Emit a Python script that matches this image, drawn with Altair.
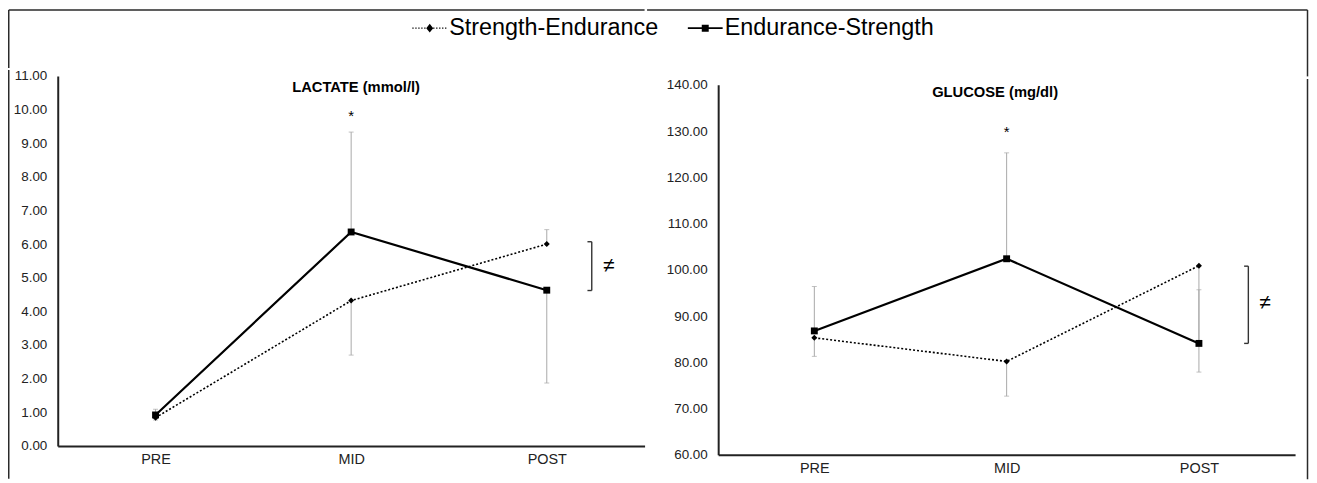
import altair as alt
import pandas as pd

# ---------------- data ----------------
timepoints = ["PRE", "MID", "POST"]
series_names = ["Strength-Endurance", "Endurance-Strength"]

lactate_se = [0.84, 4.32, 6.00]
lactate_es = [0.92, 6.36, 4.63]
lactate_se_err_end = [0.77, 2.70, 6.43]
lactate_es_err_end = [1.09, 9.33, 1.87]

glucose_se = [85.3, 80.2, 100.9]
glucose_es = [86.8, 102.4, 84.1]
glucose_se_err_end = [81.3, 72.7, 77.9]
glucose_es_err_end = [96.4, 125.3, 95.7]

lactate_domain = [0, 11]
glucose_domain = [60, 140]
lactate_ticks = [0, 1, 2, 3, 4, 5, 6, 7, 8, 9, 10, 11]
glucose_ticks = [60, 70, 80, 90, 100, 110, 120, 130, 140]

panel_titles = ["LACTATE (mmol/l)", "GLUCOSE (mg/dl)"]
title_x = [1.025, 0.94]
title_y = [10.65, 138.2]
star_x = [1, 1]
star_y = [9.8, 129.9]
bracket_x = [2.23, 2.257]
bracket_lo = [4.62, 84.1]
bracket_hi = [6.07, 100.8]
neq_x = [2.317, 2.344]
neq_y = [5.35, 92.8]

FONT = "Liberation Sans"
INK = "#222222"
ERR = "#a8a8a8"
FRAME = dict(color="#2a2a2a", strokeWidth=1.5)

LEFT_W, RIGHT_W, PANEL_H = 590, 580, 372
LEFT_SPACER_H, RIGHT_SPACER_H = 59, 67.5


def dotted_path(y_half=0.04, dot_w=0.075, step=0.171):
    """Legend glyph: a row of small filled dots from -1 to 1, plus a diamond."""
    parts = []
    xpos = -1.0
    while xpos + dot_w <= 1.0001:
        if abs(xpos + dot_w / 2) > 0.22:
            parts.append(f"M{xpos:.3f},{-y_half:.3f}h{dot_w:.3f}v{2*y_half:.3f}h{-dot_w:.3f}Z")
        xpos += step
    parts.append("M0,-0.25L0.2,0L0,0.25L-0.2,0Z")
    return "".join(parts)


def solid_path():
    return ("M-1,-0.055L1,-0.055L1,0.055L-1,0.055Z"
            "M-0.2,-0.2L0.2,-0.2L0.2,0.2L-0.2,0.2Z")


ONE = pd.DataFrame({"f": [0]})


def vline(xv, y1, y2):
    return alt.Chart(ONE).mark_rule(**FRAME).encode(
        x=alt.value(xv), y=alt.value(y1), y2=alt.value(y2))


def hline(x1, x2, yv):
    return alt.Chart(ONE).mark_rule(**FRAME).encode(
        x=alt.value(x1), x2=alt.value(x2), y=alt.value(yv))


def make_panel(i, se, es, se_err, es_err, domain, ticks, width, height):
    rows = []
    for k in range(len(timepoints)):
        rows.append({"t": k, "series": series_names[0], "value": se[k], "err": se_err[k]})
        rows.append({"t": k, "series": series_names[1], "value": es[k], "err": es_err[k]})
    df = pd.DataFrame(rows)

    xscale = alt.Scale(domain=[-0.5, 2.5], nice=False, zero=False)
    yscale = alt.Scale(domain=domain, nice=False, zero=False)
    xaxis = alt.Axis(values=[0, 1, 2], labelExpr=f"{timepoints}[datum.value]",
                     title=None, ticks=False, grid=False, domainColor=INK,
                     domainWidth=2, labelFont=FONT, labelFontSize=14.5,
                     labelColor=INK, labelPadding=7)
    yaxis = alt.Axis(values=ticks, format=".2f", title=None, ticks=False,
                     grid=False, domainColor=INK, domainWidth=2, labelFont=FONT,
                     labelFontSize=13.5, labelColor=INK, labelPadding=11)

    base = alt.Chart(df)
    x = alt.X("t:Q", scale=xscale, axis=xaxis)
    y = alt.Y("value:Q", scale=yscale, axis=yaxis)

    err_rule = base.mark_rule(color=ERR, strokeWidth=1).encode(x=x, y=y, y2="err:Q")
    err_cap = base.mark_tick(color=ERR, thickness=1, size=5, orient="horizontal").encode(
        x=x, y=alt.Y("err:Q", scale=yscale, axis=yaxis))

    se_filter = alt.datum.series == series_names[0]
    es_filter = alt.datum.series == series_names[1]

    se_line = base.transform_filter(se_filter).mark_line(
        color="black", strokeWidth=1.6, strokeDash=[2, 2]).encode(x=x, y=y)
    es_line = base.transform_filter(es_filter).mark_line(
        color="black", strokeWidth=2.2).encode(x=x, y=y)
    se_pts = base.transform_filter(se_filter).mark_point(
        shape="diamond", filled=True, size=36, color="black", opacity=1).encode(x=x, y=y)
    es_pts = base.transform_filter(es_filter).mark_point(
        shape="square", filled=True, size=48, color="black", opacity=1).encode(x=x, y=y)

    ann = pd.DataFrame({
        "x": [title_x[i], star_x[i], neq_x[i]],
        "y": [title_y[i], star_y[i], neq_y[i]],
        "label": [panel_titles[i], "*", "≠"],
        "kind": ["title", "star", "neq"],
    })
    ax = alt.X("x:Q", scale=xscale, axis=xaxis)
    ay = alt.Y("y:Q", scale=yscale, axis=yaxis)
    title_txt = alt.Chart(ann).transform_filter(alt.datum.kind == "title").mark_text(
        font=FONT, fontSize=14.8, fontWeight="bold", color="black", baseline="middle"
    ).encode(x=ax, y=ay, text="label:N")
    star_txt = alt.Chart(ann).transform_filter(alt.datum.kind == "star").mark_text(
        font=FONT, fontSize=15, color="black", baseline="middle"
    ).encode(x=ax, y=ay, text="label:N")
    neq_txt = alt.Chart(ann).transform_filter(alt.datum.kind == "neq").mark_text(
        font=FONT, fontSize=21, color="black", baseline="middle"
    ).encode(x=ax, y=ay, text="label:N")

    br = pd.DataFrame({"x": [bracket_x[i]], "lo": [bracket_lo[i]], "hi": [bracket_hi[i]]})
    cap_len = 0.022
    br_caps = pd.DataFrame({"x": [bracket_x[i] - cap_len] * 2, "x2": [bracket_x[i]] * 2,
                            "y": [bracket_lo[i], bracket_hi[i]]})
    br_v = alt.Chart(br).mark_rule(color="#333333", strokeWidth=1.4).encode(
        x=alt.X("x:Q", scale=xscale, axis=xaxis),
        y=alt.Y("lo:Q", scale=yscale, axis=yaxis), y2="hi:Q")
    br_h = alt.Chart(br_caps).mark_rule(color="#333333", strokeWidth=1.4).encode(
        x=alt.X("x:Q", scale=xscale, axis=xaxis), x2="x2:Q",
        y=alt.Y("y:Q", scale=yscale, axis=yaxis))

    layers = [err_rule, err_cap, se_line, es_line, se_pts, es_pts,
              title_txt, star_txt, neq_txt, br_v, br_h]

    if i == 0:
        leg_df = pd.DataFrame({"series": series_names, "t": [0, 0], "value": [domain[0], domain[0]]})
        legend = alt.Legend(orient="none", legendX=356.5, legendY=1.5,
                            direction="horizontal", title=None, labelFont=FONT,
                            labelFontSize=23.5, labelColor="black", labelOffset=2,
                            labelLimit=600, columnPadding=29, padding=0,
                            symbolSize=1225, symbolStrokeWidth=0,
                            symbolFillColor="black", symbolOpacity=1)
        leg_layer = alt.Chart(leg_df).mark_point(
            size=1225, filled=True, color="black", opacity=0).encode(
            x=alt.X("t:Q", scale=xscale, axis=xaxis),
            y=alt.Y("value:Q", scale=yscale, axis=yaxis),
            shape=alt.Shape("series:N",
                            scale=alt.Scale(domain=series_names, range=[dotted_path(), solid_path()]),
                            legend=legend, sort=None),
        )
        layers.append(leg_layer)
        # lower part of the figure frame's left edge
        layers.append(vline(-49.25, -6, 405))
    else:
        # lower part of the figure frame's right edge
        layers.append(vline(592.5, -6, 396.5))

    return alt.layer(*layers).properties(width=width, height=height)


left = make_panel(0, lactate_se, lactate_es, lactate_se_err_end, lactate_es_err_end,
                  lactate_domain, lactate_ticks, LEFT_W, PANEL_H)
right = make_panel(1, glucose_se, glucose_es, glucose_se_err_end, glucose_es_err_end,
                   glucose_domain, glucose_ticks, RIGHT_W, PANEL_H)


def spacer(w, h, frame_layers):
    blank = alt.Chart(pd.DataFrame({"s": ["", ""]})).mark_text(opacity=0).encode(text="s:N")
    return alt.layer(blank, *frame_layers).properties(width=w, height=h)


left_spacer = spacer(1, LEFT_SPACER_H, [
    hline(-49.25, LEFT_W, 0.75),
    vline(-49.25, 0.75, LEFT_SPACER_H),
])
right_spacer = spacer(1, RIGHT_SPACER_H, [
    hline(-71.5, 592.5, 0.75),
    vline(592.5, 0.75, RIGHT_SPACER_H),
])

chart = alt.hconcat(
    alt.vconcat(left_spacer, left, spacing=0),
    alt.vconcat(right_spacer, right, spacing=0),
    spacing=0,
).properties(
    padding={"left": 0, "top": 0, "right": 0, "bottom": 0},
    background="white",
).configure_view(stroke=None)

chart.save("out.html", embed_options={"renderer": "svg", "actions": False})
